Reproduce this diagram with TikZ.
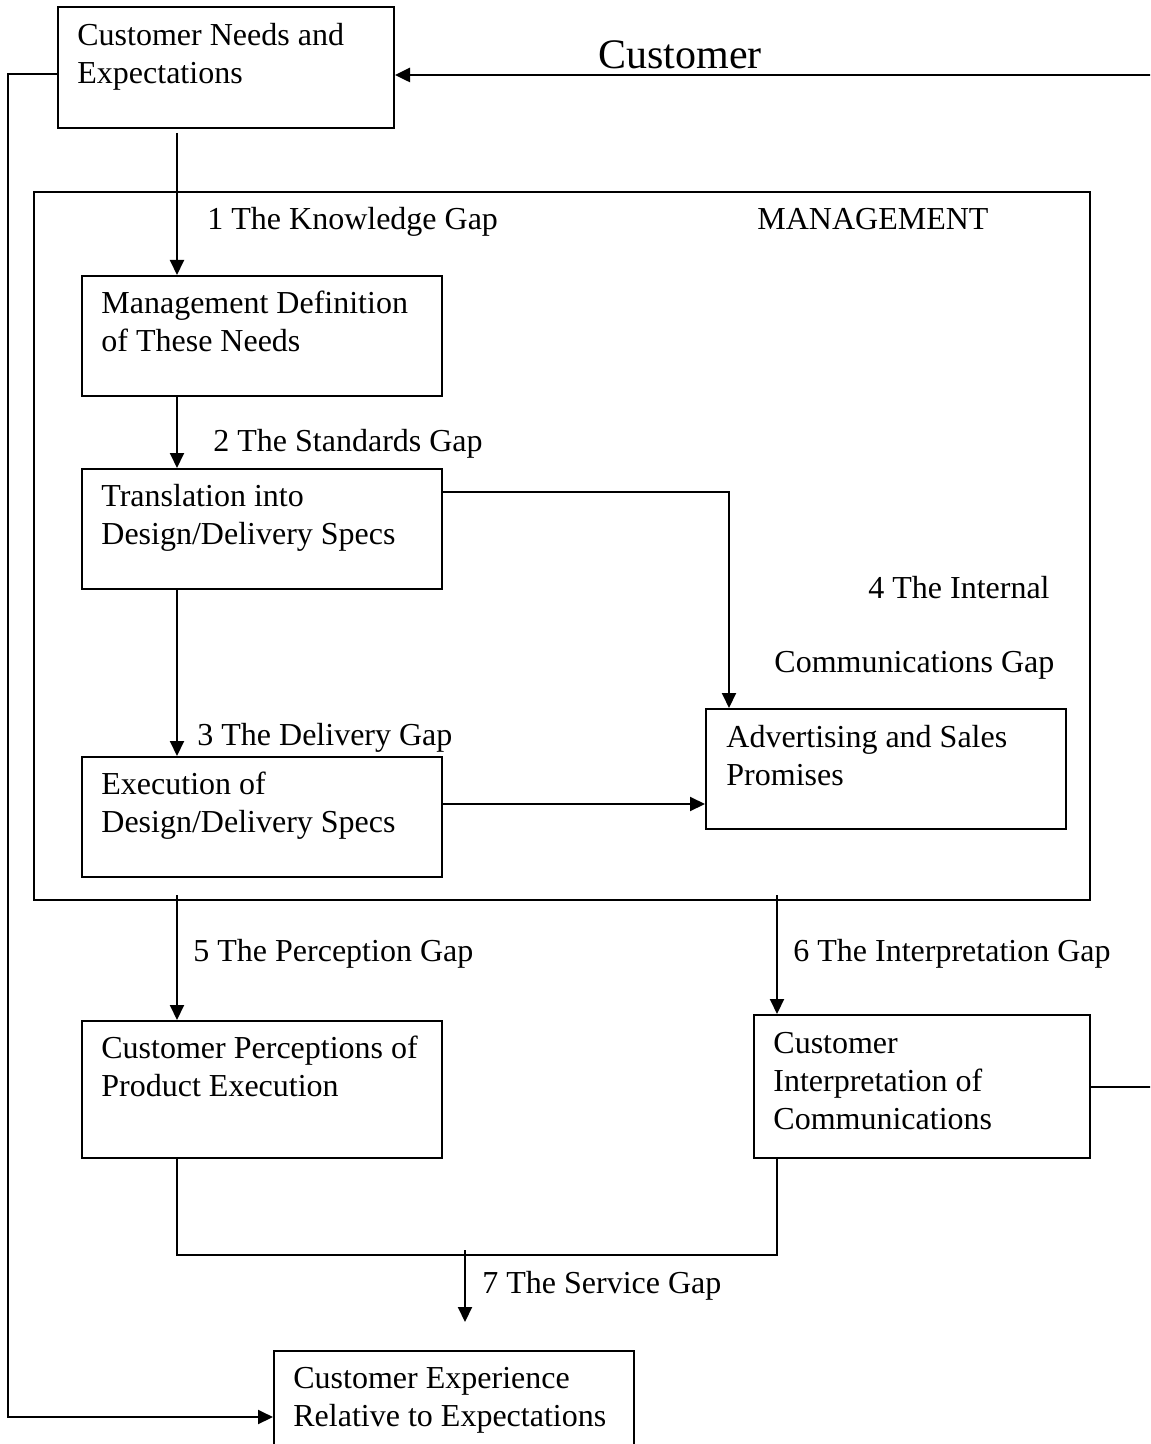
\documentclass[tikz,border=0pt]{standalone}
\usepackage{fontspec}
\setmainfont{Liberation Serif}
\usepackage{tikz}
\usetikzlibrary{arrows.meta,calc,positioning}
\tikzset{%
	gapbox/.style   = {draw, rectangle, line width=1pt, anchor=north west, inner sep=0pt, minimum width=180pt, minimum height=60pt},
	boxtext/.style  = {anchor=base west, align=left, inner sep=0pt},
	gaplabel/.style = {anchor=base west, inner sep=0pt},
	gaparrow/.style = {line width=1pt, -{Triangle[length=7.5pt,width=7pt]}},
	link/.style     = {line width=1pt},
}
\begin{document}
\begin{tikzpicture}[x=0.5pt, y=-0.5pt, font=\fontsize{16}{19}\selectfont]
	\useasboundingbox (0,0) rectangle (1150,1444);
	\clip (0,0) rectangle (1150,1444);
	\node[gapbox, minimum width=168pt, minimum height=60.5pt] (cne) at (57,6) {};
	\node[gapbox, minimum width=528pt, minimum height=354pt] (mgmt) at (33,191) {};
	\node[gapbox] (mdn) at (81,275) {};
	\node[gapbox] (tr) at (81,468) {};
	\node[gapbox] (ex) at (81,756) {};
	\node[gapbox] (asp) at (705,708) {};
	\node[gapbox, minimum height=68.5pt] (cpe) at (81,1020) {};
	\node[gapbox, minimum width=168pt, minimum height=71.5pt] (cic) at (753,1014) {};
	\node[gapbox] (cee) at (273,1350) {};
	
	\node[boxtext] (cnet) at ($(cne.north west)+(20,78)$) {Customer Needs and\\Expectations};
	\node[boxtext] (mdnt) at ($(mdn.north west)+(20,76)$) {Management Definition\\of These Needs};
	\node[boxtext] (trt) at ($(tr.north west)+(20,76)$) {Translation into\\Design/Delivery Specs};
	\node[boxtext] (ext) at ($(ex.north west)+(20,76)$) {Execution of\\Design/Delivery Specs};
	\node[boxtext] (aspt) at ($(asp.north west)+(21,77)$) {Advertising and Sales\\Promises};
	\node[boxtext] (cpet) at ($(cpe.north west)+(20,76)$) {Customer Perceptions of\\Product Execution};
	\node[boxtext] (cict) at ($(cic.north west)+(20,115)$) {Customer\\Interpretation of\\Communications};
	\node[boxtext] (ceet) at ($(cee.north west)+(20,76)$) {Customer Experience\\Relative to Expectations};
	
	\node[gaplabel, font=\fontsize{21}{25}\selectfont] (cust) at (598,69) {Customer};
	\node[gaplabel] (mgmtt) at (757,230) {MANAGEMENT};
	\node[gaplabel] (gapone) at (207,230) {1 The Knowledge Gap};
	\node[gaplabel] (gaptwo) at (213,451) {2 The Standards Gap};
	\node[gaplabel] (gapthree) at (197,745) {3 The Delivery Gap};
	\node[gaplabel, anchor=base east] (gapfour) at (1050,598) {4 The Internal};
	\node[gaplabel] (gapfourb) at (774,672) {Communications Gap};
	\node[gaplabel] (gapfive) at (193,961) {5 The Perception Gap};
	\node[gaplabel] (gapsix) at (793,961) {6 The Interpretation Gap};
	\node[gaplabel] (gapseven) at (482,1293) {7 The Service Gap};
	
	\coordinate (custR) at (1152,75);
	\draw[gaparrow, line width=1.3pt] (custR) -- (custR -| cne.east);
	\draw[gaparrow] ([xshift=60pt,yshift=-2pt]cne.south west) -- ([xshift=48pt]mdn.north west);
	\draw[gaparrow] ([xshift=48pt]mdn.south west) -- ([xshift=48pt]tr.north west);
	\draw[gaparrow] ([xshift=48pt]tr.south west) -- ([xshift=48pt]ex.north west);
	\draw[gaparrow] ([yshift=-12pt]tr.north east) -| ([xshift=12pt]asp.north west);
	\draw[gaparrow] ([yshift=-24pt]ex.north east) -- ([yshift=-24pt]ex.north east -| asp.west);
	\draw[gaparrow] ([xshift=72pt,yshift=3pt]mgmt.south west) -- ([xshift=48pt]cpe.north west);
	\draw[gaparrow] ([xshift=372pt,yshift=3pt]mgmt.south west) -- ([xshift=12pt]cic.north west);
	\draw[link] ([xshift=48pt]cpe.south west) -- ++(0,96) -| ([xshift=12pt]cic.south west);
	\draw[link] (cic.east) -- ++(62,0);
	\coordinate (join) at (465,1250);
	\draw[gaparrow] (join) -- ++(0,72);
	\draw[gaparrow] ([yshift=-34pt]cne.north west) -- ++(-49,0) |- ([yshift=-33.5pt]cee.north west);
\end{tikzpicture}
\end{document}
